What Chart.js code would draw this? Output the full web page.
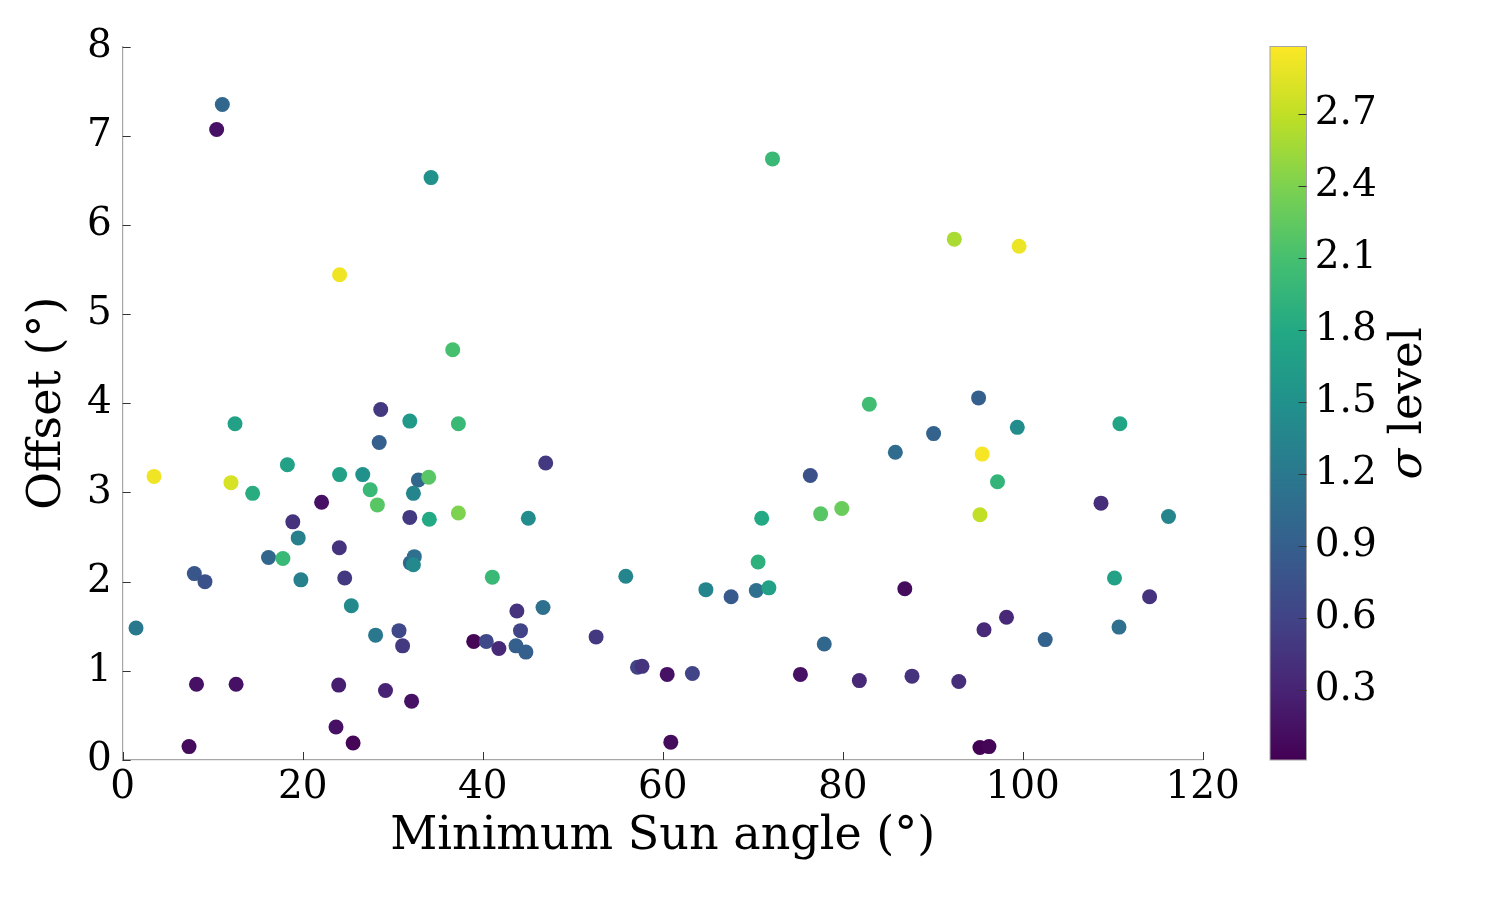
<!DOCTYPE html>
<html>
<head>
<meta charset="utf-8">
<script src="https://cdn.jsdelivr.net/npm/chart.js@4"></script>
<style>
   body { margin: 0; background: #fff; }
   canvas { display: block; }
</style>
</head>
<body>
<canvas id="myChart" width="1500" height="900"></canvas>
<script>
// minimum sun angle (deg), offset (deg), sigma level
const sunAngle = [
   11.07, 10.44, 34.26, 24.1, 36.67, 12.48, 28.67, 31.9, 37.3, 28.5,
   18.3, 3.48, 24.1, 26.67, 12.03, 32.85, 34.0, 14.44, 27.5, 32.3,
   22.1, 28.3, 37.3, 31.9, 34.07, 18.9, 19.5, 24.07, 16.2, 17.8,
   31.96, 32.4, 32.3, 7.96, 9.14, 19.8, 24.67, 41.07, 25.4, 1.48,
   28.1, 30.7, 31.1, 39.0, 40.4, 41.8, 8.2, 12.6, 24.0, 29.2,
   32.1, 23.7, 25.6, 7.37, 72.2, 82.96, 47.0, 45.07, 76.4, 79.9,
   77.55, 71.0, 55.9, 70.6, 64.8, 67.6, 70.4, 71.8, 43.8, 46.7,
   44.2, 43.7, 44.8, 52.6, 57.2, 57.7, 60.5, 63.3, 75.3, 81.85,
   77.95, 60.9, 92.4, 99.6, 95.1, 90.1, 85.85, 99.4, 110.8, 95.5,
   97.2, 95.25, 108.7, 116.2, 86.9, 110.2, 114.1, 98.2, 95.7, 110.7,
   102.5, 87.7, 92.9, 95.25, 96.25
];
const offsetDeg = [
   7.35, 7.07, 6.53, 5.44, 4.60, 3.77, 3.93, 3.80, 3.77, 3.56,
   3.31, 3.18, 3.20, 3.20, 3.11, 3.14, 3.17, 2.99, 3.03, 2.99,
   2.89, 2.86, 2.77, 2.72, 2.70, 2.67, 2.49, 2.38, 2.27, 2.26,
   2.21, 2.28, 2.19, 2.09, 2.00, 2.02, 2.04, 2.05, 1.73, 1.48,
   1.40, 1.45, 1.28, 1.33, 1.33, 1.25, 0.85, 0.85, 0.84, 0.78,
   0.66, 0.37, 0.19, 0.15, 6.74, 3.99, 3.33, 2.71, 3.19, 2.82,
   2.76, 2.71, 2.06, 2.22, 1.91, 1.83, 1.90, 1.93, 1.67, 1.71,
   1.45, 1.28, 1.21, 1.38, 1.04, 1.05, 0.96, 0.97, 0.96, 0.89,
   1.30, 0.20, 5.84, 5.76, 4.06, 3.66, 3.45, 3.73, 3.77, 3.43,
   3.12, 2.75, 2.88, 2.73, 1.92, 2.04, 1.83, 1.60, 1.46, 1.49,
   1.35, 0.94, 0.88, 0.14, 0.15
];
const sigmaLevel = [
   1.0, 0.15, 1.5, 2.92, 2.1, 1.7, 0.5, 1.6, 2.0, 0.9,
   1.7, 2.92, 1.7, 1.5, 2.8, 1.0, 2.2, 1.85, 2.0, 1.35,
   0.15, 2.2, 2.4, 0.5, 1.8, 0.45, 1.3, 0.45, 1.0, 2.0,
   1.0, 1.1, 1.4, 0.8, 0.75, 1.3, 0.5, 2.0, 1.4, 1.2,
   1.2, 0.65, 0.5, 0.05, 0.65, 0.35, 0.15, 0.15, 0.25, 0.3,
   0.15, 0.15, 0.05, 0.1, 2.0, 2.05, 0.5, 1.45, 0.75, 2.3,
   2.2, 1.8, 1.35, 1.9, 1.35, 0.85, 1.1, 1.7, 0.45, 1.1,
   0.6, 0.9, 0.9, 0.5, 0.6, 0.45, 0.15, 0.6, 0.15, 0.35,
   1.0, 0.1, 2.6, 2.9, 0.9, 0.95, 1.05, 1.45, 1.75, 2.95,
   1.95, 2.7, 0.4, 1.35, 0.1, 1.7, 0.45, 0.35, 0.35, 1.1,
   0.95, 0.45, 0.4, 0.02, 0.05
];

const xTicks = [0, 20, 40, 60, 80, 100, 120];
const yTicks = [0, 1, 2, 3, 4, 5, 6, 7, 8];
const cbTicks = [0.3, 0.6, 0.9, 1.2, 1.5, 1.8, 2.1, 2.4, 2.7];
const sigmaMin = 0.01;
const sigmaMax = 2.98;

const viridisStops = [
   "#440154", "#482475", "#414487", "#355f8d", "#2a788e", "#21918c",
   "#22a884", "#44bf70", "#7ad151", "#bddf26", "#fde725"
];

function hexToRgb(h) {
   return [parseInt(h.slice(1, 3), 16), parseInt(h.slice(3, 5), 16), parseInt(h.slice(5, 7), 16)];
}

function viridis(t) {
   t = Math.max(0, Math.min(1, t));
   const pos = t * (viridisStops.length - 1);
   const i = Math.min(Math.floor(pos), viridisStops.length - 2);
   const f = pos - i;
   const a = hexToRgb(viridisStops[i]);
   const b = hexToRgb(viridisStops[i + 1]);
   const c = a.map((v, k) => Math.round(v + (b[k] - v) * f));
   return "rgb(" + c.join(",") + ")";
}

const serif = "'DejaVu Serif', 'Liberation Serif', serif";
const spineColor = "#a6a6a6";
const tickColor = "#333";

// colorbar, inward tick marks and the colorbar label
const extras = {
   id: "extras",
   afterDraw(chart) {
      const ctx = chart.ctx;
      const x = chart.scales.x;
      const y = chart.scales.y;
      const cb = chart.scales.cb;
      const left = 1270, right = 1306.5;
      const top = cb.getPixelForValue(sigmaMax);
      const bottom = cb.getPixelForValue(sigmaMin);

      ctx.save();
      const grad = ctx.createLinearGradient(0, bottom, 0, top);
      viridisStops.forEach((c, i) => grad.addColorStop(i / (viridisStops.length - 1), c));
      ctx.fillStyle = grad;
      ctx.fillRect(left, top, right - left, bottom - top);
      ctx.strokeStyle = spineColor;
      ctx.lineWidth = 1;
      ctx.strokeRect(left, top, right - left, bottom - top);

      ctx.strokeStyle = tickColor;
      ctx.lineWidth = 1;
      ctx.beginPath();
      xTicks.forEach((v) => {
         const px = Math.round(x.getPixelForValue(v)) + 0.5;
         ctx.moveTo(px, x.top);
         ctx.lineTo(px, x.top - 8);
      });
      yTicks.forEach((v) => {
         const py = Math.round(y.getPixelForValue(v)) + 0.5;
         ctx.moveTo(y.right, py);
         ctx.lineTo(y.right + 8, py);
      });
      cbTicks.forEach((v) => {
         const py = Math.round(cb.getPixelForValue(v)) + 0.5;
         ctx.moveTo(right, py);
         ctx.lineTo(right - 8, py);
      });
      ctx.stroke();

      // "σ level" rotated label, italic sigma
      ctx.translate(1409, (top + bottom) / 2);
      ctx.rotate(-Math.PI / 2);
      ctx.fillStyle = "#000";
      ctx.textBaseline = "middle";
      ctx.textAlign = "left";
      const s1 = "σ";
      const s2 = " level";
      ctx.font = "italic 45px " + serif;
      const w1 = ctx.measureText(s1).width;
      ctx.font = "45px " + serif;
      const w2 = ctx.measureText(s2).width;
      const start = -(w1 + w2) / 2;
      ctx.font = "italic 45px " + serif;
      ctx.fillText(s1, start, 0);
      ctx.font = "45px " + serif;
      ctx.fillText(s2, start + w1, 0);
      ctx.restore();
   },
};

const ctx = document.getElementById("myChart").getContext("2d");
new Chart(ctx, {
   type: "scatter",
   data: {
      datasets: [
         {
            data: sunAngle.map((v, i) => ({ x: v, y: offsetDeg[i] })),
            backgroundColor: sigmaLevel.map((s) => viridis((s - sigmaMin) / (sigmaMax - sigmaMin))),
            borderWidth: 0,
            pointRadius: 7.5,
            pointHoverRadius: 7.5,
         },
      ],
   },
   options: {
      responsive: false,
      animation: false,
      layout: { padding: { top: 46.5, left: 0, right: 0, bottom: 0 } },
      plugins: {
         legend: { display: false },
         tooltip: { enabled: false },
      },
      scales: {
         x: {
            type: "linear",
            min: 0,
            max: 120,
            afterBuildTicks: (s) => { s.ticks = xTicks.map((v) => ({ value: v })); },
            afterFit: (s) => { s.height = 140; },
            grid: { display: false, drawTicks: false },
            border: { display: true, color: spineColor, width: 1.2 },
            ticks: { color: "#000", padding: 4, font: { family: serif, size: 39 } },
            title: {
               display: true,
               text: "Minimum Sun angle (°)",
               color: "#000",
               font: { family: serif, size: 46 },
               padding: { top: 0, bottom: 35 },
            },
         },
         y: {
            type: "linear",
            min: 0,
            max: 8,
            afterBuildTicks: (s) => { s.ticks = yTicks.map((v) => ({ value: v })); },
            afterFit: (s) => { s.width = 122.7; s.paddingTop = 0; },
            grid: { display: false, drawTicks: false },
            border: { display: true, color: spineColor, width: 1.2 },
            ticks: { color: "#000", padding: 11, font: { family: serif, size: 39 } },
            title: {
               display: true,
               text: "Offset (°)",
               color: "#000",
               font: { family: serif, size: 46 },
               padding: { top: 20, bottom: 0 },
            },
         },
         cb: {
            type: "linear",
            position: "right",
            min: sigmaMin,
            max: sigmaMax,
            afterBuildTicks: (s) => { s.ticks = cbTicks.map((v) => ({ value: v })); },
            afterFit: (s) => {
               s.width = 1500 - 1202.7;
               s.paddingTop = 0;
               s.paddingBottom = 0;
            },
            grid: { display: false, drawTicks: false },
            border: { display: false },
            ticks: {
               color: "#000",
               padding: 112,
               font: { family: serif, size: 39 },
               callback: (v) => v.toFixed(1),
            },
         },
      },
   },
   plugins: [extras],
});
</script>
</body>
</html>
